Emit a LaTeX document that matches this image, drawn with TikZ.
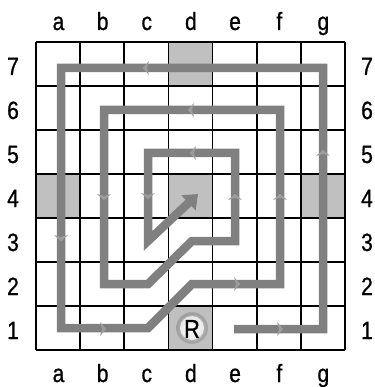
\documentclass[tikz,border=0pt]{standalone}
\usepackage{fontspec}
\setmainfont{Liberation Sans}[FakeStretch=0.84, FakeBold=0.8]
\usetikzlibrary{arrows.meta}
\definecolor{pathgray}{HTML}{808080}
\definecolor{mkgray}{HTML}{9C9C9C}
\definecolor{cellgray}{HTML}{C0C0C0}
\tikzset{
  gridline/.style={black, line width=1.8pt},
  shadecell/.style={fill=cellgray},
  lbl/.style={font=\fontsize{25}{28}\selectfont, inner sep=0pt, anchor=base},
  route/.style={pathgray, line width=8.5pt, line join=miter},
  mk/.pic={\fill[mkgray] (3.2,0) -- (-3,7) -- (-1,0) -- (-3,-7) -- cycle;}
}
\begin{document}
\begin{tikzpicture}[x=1pt,y=-1pt]
\useasboundingbox (0,0) rectangle (374,387);
\fill[white] (0,0) rectangle (374,387);
\def\cw{44.143}
% shaded squares: d7, a4, d4, g4, d1
\foreach \c/\r in {3/7,0/4,3/4,6/4,3/1}
  \fill[shadecell] ({36+\c*\cw},{42+(7-\r)*44}) rectangle ++(\cw,44);
% grid
\foreach \i in {0,...,7} {
  \draw[gridline] ({36+\i*\cw},42) -- ({36+\i*\cw},350);
  \draw[gridline] (36,{42+\i*44}) -- (345,{42+\i*44});
}
% labels
\foreach \l [count=\i from 0] in {a,b,c,d,e,f,g} {
  \node[lbl] (top\l) at ({58.5+\i*\cw},30) {\l};
  \node[lbl] (bot\l) at ({58.5+\i*\cw},382) {\l};
}
\foreach \n in {1,...,7} {
  \node[lbl] (left\n) at (13,{75+(7-\n)*44}) {\n};
  \node[lbl] (right\n) at (367,{75+(7-\n)*44}) {\n};
}
% route
\draw[route, -{Triangle[length=13pt,width=20pt]}]
  (234,329) -- (323,329) -- (323,68) -- (61,68) -- (61,328) -- (148,328)
  -- (192,284) -- (280,284) -- (280,110) -- (104,110) -- (104,284) -- (148,284)
  -- (192,241) -- (235,241) -- (235,153) -- (148,153) -- (148,241) -- (198,194);
% direction markers
\pic[rotate=180] at (146,68) {mk};
\pic[rotate=180] at (191,110) {mk};
\pic[rotate=90] at (323,153) {mk};
\pic[rotate=180] at (193,153) {mk};
\pic[rotate=270] at (104,197) {mk};
\pic[rotate=270] at (148,196) {mk};
\pic[rotate=90] at (235,197) {mk};
\pic[rotate=90] at (280,197) {mk};
\pic[rotate=270] at (61,238) {mk};
\pic at (103,329) {mk};
\pic at (237,284) {mk};
\pic at (280,329) {mk};
% rook button
\shade[inner color=white, outer color=black!40] (192,328) circle[radius=15.5];
\draw[black!35, line width=0.8pt] (192,328) circle[radius=15.5];
\fill[white, opacity=0.7] (192,328) circle[radius=12];
\node[font=\fontsize{26}{28}\selectfont, inner sep=0pt] (R) at (192,329) {R};
\end{tikzpicture}
\end{document}
